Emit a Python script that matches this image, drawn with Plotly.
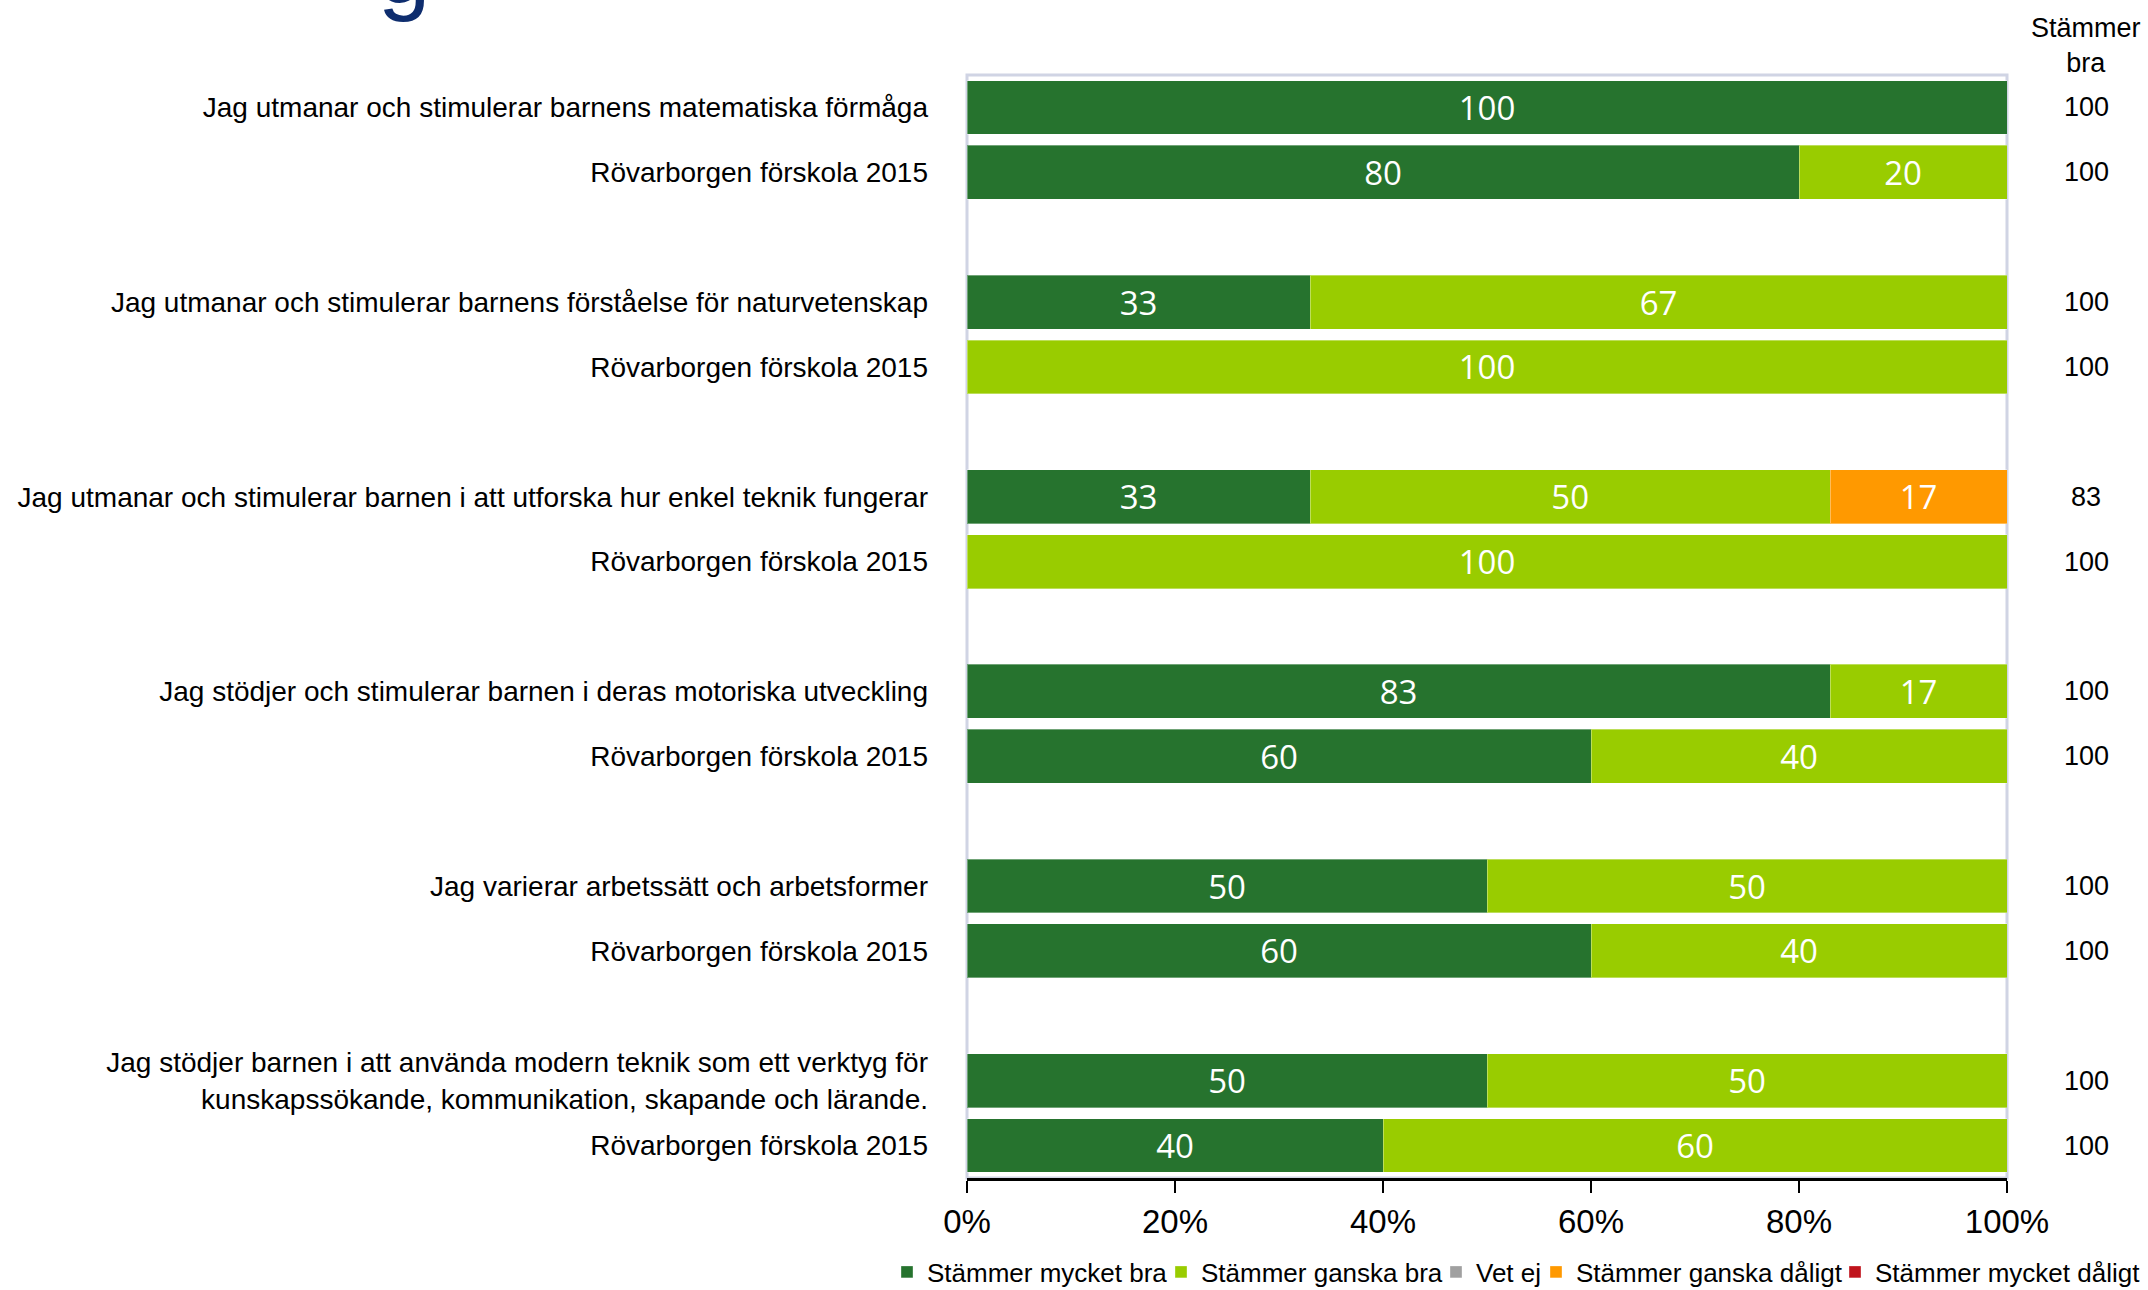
import plotly.graph_objects as go

# ---- data ----
questions = [
    "Jag utmanar och stimulerar barnens matematiska förmåga",
    "Jag utmanar och stimulerar barnens förståelse för naturvetenskap",
    "Jag utmanar och stimulerar barnen i att utforska hur enkel teknik fungerar",
    "Jag stödjer och stimulerar barnen i deras motoriska utveckling",
    "Jag varierar arbetssätt och arbetsformer",
    "Jag stödjer barnen i att använda modern teknik som ett verktyg för<br>kunskapssökande, kommunikation, skapande och lärande.",
]
comparison_label = "Rövarborgen förskola 2015"

series_names = ["Stämmer mycket bra", "Stämmer ganska bra", "Vet ej",
                "Stämmer ganska dåligt", "Stämmer mycket dåligt"]
mycket_bra = [100, 80, 33, 0, 33, 0, 83, 60, 50, 60, 50, 40]
ganska_bra = [0, 20, 67, 100, 50, 100, 17, 40, 50, 40, 50, 60]
vet_ej = [0] * 12
ganska_daligt = [0, 0, 0, 0, 17, 0, 0, 0, 0, 0, 0, 0]
mycket_daligt = [0] * 12
stammer_bra = [100, 100, 100, 100, 83, 100, 100, 100, 100, 100, 100, 100]

x_ticks = [0, 20, 40, 60, 80, 100]
x_ticktext = ["0%", "20%", "40%", "60%", "80%", "100%"]

colors = ["#26732E", "#99CC00", "#A0A0A0", "#FF9900", "#C0141C"]

# legend entry text start positions (layout, px)
legend_text_x = [928, 1202, 1477, 1577, 1876]

# ---- build row positions and labels ----
row_labels = []
row_pos = []
for g, q in enumerate(questions):
    row_labels += [q, comparison_label]
    row_pos += [g * 3, g * 3 + 1]

series_vals = [mycket_bra, ganska_bra, vet_ej, ganska_daligt, mycket_daligt]

L, R, T, B = 967, 141, 75, 112
W, H = 2148, 1290
plot_h = H - T - B

fig = go.Figure()
legend_layouts = {}
for i, (name, vals, col) in enumerate(zip(series_names, series_vals, colors)):
    lg = "legend" if i == 0 else f"legend{i + 1}"
    fig.add_trace(go.Bar(
        name=name,
        y=row_pos,
        x=vals,
        orientation="h",
        width=0.83,
        legend=lg,
        marker=dict(color=col, line=dict(color="rgba(255,255,255,0.35)", width=1)),
        text=[str(v) if v else "" for v in vals],
        textposition="inside",
        insidetextanchor="middle",
        textangle=0,
        constraintext="none",
        textfont=dict(family="Open Sans", size=33, color="white"),
        hoverinfo="skip",
    ))
    legend_layouts[lg] = dict(
        orientation="h", xref="container", yref="container",
        x=(legend_text_x[i] - 41) / W, xanchor="left", y=18 / H, yanchor="middle",
        font=dict(family="Liberation Sans", size=26, color="black"),
        itemwidth=30, bgcolor="rgba(0,0,0,0)",
    )

annotations = []
for p, v in zip(row_pos, stammer_bra):
    annotations.append(dict(
        x=1.076, xref="paper", y=p, yref="y", text=str(v), showarrow=False,
        xanchor="center", yanchor="middle",
        font=dict(family="Liberation Sans", size=27, color="black"),
    ))
annotations.append(dict(
    x=1.076, xref="paper", y=1.0263, yref="paper", text="Stämmer<br>bra",
    showarrow=False, xanchor="center", yanchor="middle",
    font=dict(family="Liberation Sans", size=27, color="black"),
))
# partially visible title letter at top edge
annotations.append(dict(
    x=(404 - L) / (W - L - R), xref="paper", y=(H - B) / plot_h, yref="paper", text="g",
    showarrow=False, xanchor="center", yanchor="bottom", yshift=-24,
    font=dict(family="Liberation Sans", size=94, color="#0E2D6E"),
))

fig.update_layout(
    barmode="stack",
    width=W, height=H,
    margin=dict(l=L, r=R, t=T, b=B, autoexpand=False),
    paper_bgcolor="white", plot_bgcolor="white",
    font=dict(family="Liberation Sans", color="black"),
    showlegend=True,
    xaxis=dict(
        range=[0, 100], tickvals=x_ticks, ticktext=x_ticktext,
        showgrid=False, zeroline=False,
        showline=True, linecolor="black", linewidth=3,
        ticks="outside", ticklen=12, tickwidth=2, tickcolor="black",
        tickfont=dict(family="Liberation Sans", size=33, color="black"),
        automargin=False, fixedrange=True,
    ),
    yaxis=dict(
        range=[16.5, -0.5], tickvals=row_pos, ticktext=row_labels,
        showgrid=False, zeroline=False, showline=False, ticks="",
        ticklabelstandoff=38,
        tickfont=dict(family="Liberation Sans", size=28, color="black"),
        automargin=False, fixedrange=True,
    ),
    shapes=[dict(type="rect", xref="paper", yref="paper", x0=0, x1=1, y0=0, y1=1,
                 line=dict(color="#D0D4E4", width=3), layer="below")],
    annotations=annotations,
    **legend_layouts,
)

fig.write_html("out.html", config={"displayModeBar": False},
               post_script="document.body.style.margin='0px';")
